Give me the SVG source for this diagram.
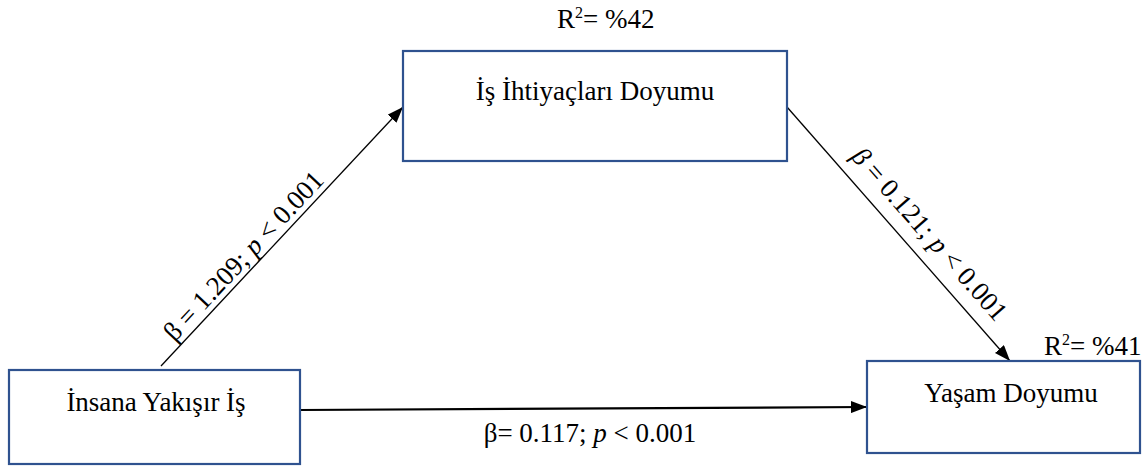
<svg xmlns="http://www.w3.org/2000/svg" width="1142" height="468" viewBox="0 0 1142 468">
<style>
.box{fill:#fff;stroke:#2F528F;stroke-width:2.2}
.t{font-family:"Liberation Serif","Times New Roman",serif;font-size:27px;fill:#000}
.c{stroke:#000;fill:none}
</style>
<defs>
<marker id="ah" markerWidth="16" markerHeight="12" refX="16" refY="6" orient="auto" markerUnits="userSpaceOnUse">
<path d="M0,0 L16,6 L0,12 Z" fill="#000"/>
</marker>
</defs>
<g id="connectors">
<line class="c" x1="161" y1="366" x2="403" y2="107" stroke-width="1.3" marker-end="url(#ah)"/>
<line class="c" x1="787" y1="107" x2="1010" y2="361" stroke-width="1.3" marker-end="url(#ah)"/>
<line class="c" x1="300" y1="410" x2="867" y2="407" stroke-width="2.2" marker-end="url(#ah)"/>
<text class="t" x="250" y="262" text-anchor="middle" transform="rotate(-47 250 262)">β = 1.209; <tspan font-style="italic">p</tspan> &lt; 0.001</text>
<text class="t" x="923" y="240" text-anchor="middle" transform="rotate(48.7 923 240)"><tspan font-style="italic">β</tspan> = 0.121; <tspan font-style="italic">p</tspan> &lt; 0.001</text>
<text class="t" x="590" y="442" text-anchor="middle">β= 0.117; <tspan font-style="italic">p</tspan> &lt; 0.001</text>
</g>
<g id="node-ihtiyac">
<rect class="box" x="403" y="51" width="384" height="110"/>
<text class="t" x="595" y="100" text-anchor="middle">İş İhtiyaçları Doyumu</text>
<text class="t" x="557" y="28">R<tspan font-size="16" dy="-10">2</tspan><tspan dy="10">= %42</tspan></text>
</g>
<g id="node-insana">
<rect class="box" x="9" y="370" width="291" height="94"/>
<text class="t" x="156" y="411" text-anchor="middle">İnsana Yakışır İş</text>
</g>
<g id="node-yasam">
<rect class="box" x="867" y="361" width="273" height="92"/>
<text class="t" x="1011" y="402" text-anchor="middle">Yaşam Doyumu</text>
<text class="t" x="1044" y="355">R<tspan font-size="16" dy="-10">2</tspan><tspan dy="10">= %41</tspan></text>
</g>
</svg>
